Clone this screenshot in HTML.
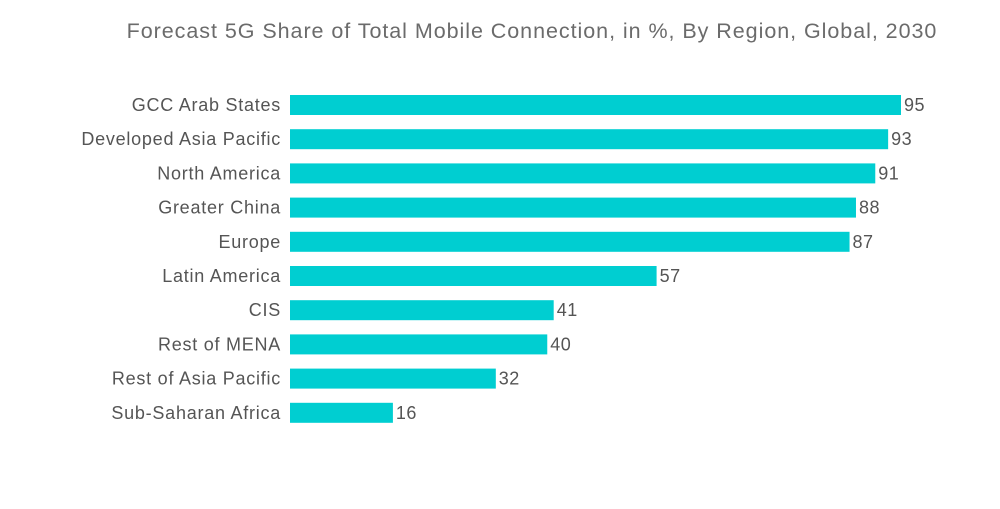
<!DOCTYPE html>
<html><head><meta charset="utf-8"><style>
body{margin:0;background:#fff;width:1000px;height:504px;overflow:hidden;font-family:"Liberation Sans",sans-serif}
</style></head><body>
<svg id="chart" width="1000" height="504" xmlns="http://www.w3.org/2000/svg">
<text x="532" y="38" text-anchor="middle" font-size="21.5" letter-spacing="0.95" fill="#6b6b6b" font-family="Liberation Sans, sans-serif">Forecast 5G Share of Total Mobile Connection, in %, By Region, Global, 2030</text>
<g id="bars"></g>
</svg>
<script>
const categories = ["GCC Arab States","Developed Asia Pacific","North America","Greater China","Europe","Latin America","CIS","Rest of MENA","Rest of Asia Pacific","Sub-Saharan Africa"];
const values = [95,93,91,88,87,57,41,40,32,16];
const x0 = 290, pxPerUnit = (901 - 290) / 95;
function xScale(v){ return x0 + v * pxPerUnit; }
function yScale(i){ return 105 + i * 34.2; }
const g = document.getElementById('bars');
const ns = "http://www.w3.org/2000/svg";
categories.forEach((c, i) => {
  const y = yScale(i);
  const r = document.createElementNS(ns, 'rect');
  
  
  r.setAttribute('x', x0); r.setAttribute('y', y - 10);
  r.setAttribute('width', xScale(values[i]) - x0); r.setAttribute('height', 20);
  r.setAttribute('fill', '#00ced1');
  g.appendChild(r);
  const l = document.createElementNS(ns, 'text');
  
  
  l.setAttribute('x', 281); l.setAttribute('y', y + 6);
  l.setAttribute('text-anchor', 'end'); l.setAttribute('font-size', '18');
  l.setAttribute('letter-spacing', '0.75');
  l.setAttribute('fill', '#555');
  l.textContent = c;
  g.appendChild(l);
  const v = document.createElementNS(ns, 'text');
  
  
  v.setAttribute('x', xScale(values[i]) + 3); v.setAttribute('y', y + 6);
  v.setAttribute('font-size', '18'); v.setAttribute('letter-spacing', '0.5'); v.setAttribute('fill', '#555');
  v.textContent = values[i];
  g.appendChild(v);
});
</script>
</body></html>
